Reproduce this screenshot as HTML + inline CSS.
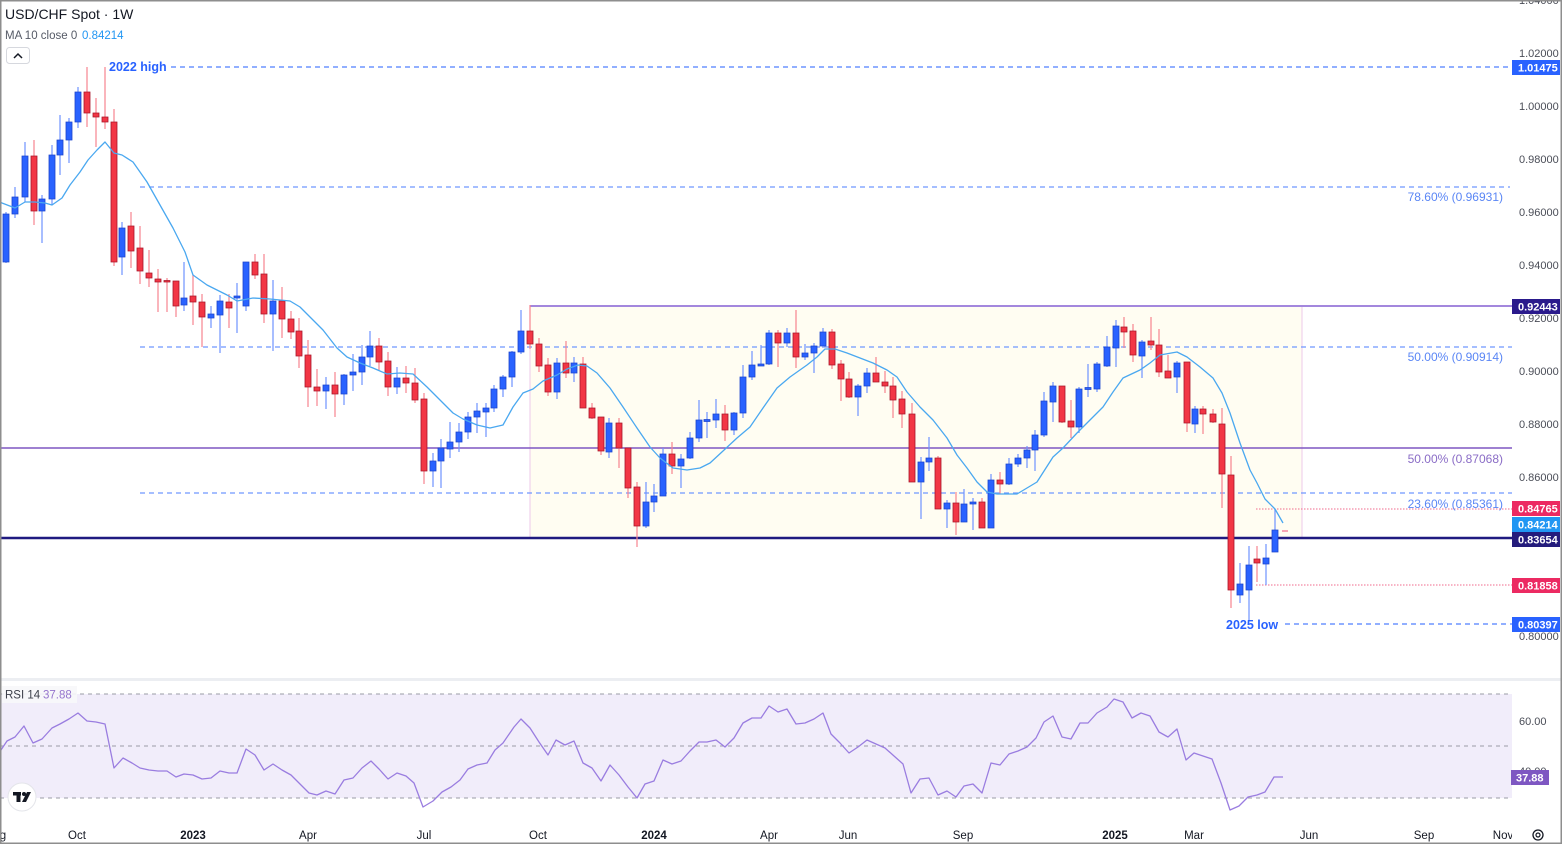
<!DOCTYPE html>
<html><head><meta charset="utf-8"><style>
html,body{margin:0;padding:0;background:#fff;}
svg{display:block;font-family:"Liberation Sans",sans-serif;}
</style></head><body>
<svg width="1564" height="847" viewBox="0 0 1564 847" xmlns="http://www.w3.org/2000/svg">
<rect x="0" y="0" width="1564" height="847" fill="#fff"/>
<defs><clipPath id="plot"><rect x="0" y="0" width="1512" height="678"/></clipPath></defs>

<!-- Range box -->
<rect x="530" y="306" width="772" height="232" fill="#fffdf2" stroke="#ecc9ea" stroke-width="1"/>
<line x1="530" y1="306" x2="1512" y2="306" stroke="#a387dd" stroke-width="2"/>

<!-- horizontal lines -->
<g fill="none" stroke-width="1.2" stroke-dasharray="5,4">
<line x1="171" y1="67" x2="1512" y2="67" stroke="#4f7fff"/>
<line x1="140" y1="187" x2="1510" y2="187" stroke="#6f98ff"/>
<line x1="140" y1="347" x2="1512" y2="347" stroke="#6f98ff"/>
<line x1="140" y1="493" x2="1512" y2="493" stroke="#6f98ff"/>
<line x1="1285" y1="624" x2="1512" y2="624" stroke="#4f7fff"/>
</g>
<line x1="0" y1="448" x2="1512" y2="448" stroke="#7e57c2" stroke-width="1.6"/>
<line x1="0" y1="538" x2="1512" y2="538" stroke="#1f1a80" stroke-width="2.5"/>
<g stroke="#f06a8c" stroke-width="1" stroke-dasharray="1.5,1.5">
<line x1="1256" y1="509" x2="1512" y2="509"/>
<line x1="1256" y1="585" x2="1512" y2="585"/>
</g>

<!-- fib texts -->
<g font-size="12" text-anchor="end">
<text x="1503" y="201" fill="#5a86f5">78.60% (0.96931)</text>
<text x="1503" y="361" fill="#5a86f5">50.00% (0.90914)</text>
<text x="1503" y="463" fill="#8a6cc6">50.00% (0.87068)</text>
<text x="1503" y="508" fill="#5a86f5">23.60% (0.85361)</text>
</g>
<text x="109" y="71" font-size="12.5" font-weight="bold" fill="#2962ff">2022 high</text>
<text x="1226" y="629" font-size="12.5" font-weight="bold" fill="#2962ff">2025 low</text>

<g clip-path="url(#plot)">
<!-- wicks -->
<path fill="none" stroke="#6f93ff" stroke-width="1.2" d="M6 212V263M15 187V218M25 142V202M42 195V243M52 145V205M60 115V175M69 118V163M78 87V128M122 222V275M184 262V311M211 306V328M220 295V353M237 283V333M246 262V311M273 280V351M326 377V409M344 374V405M353 354V391M362 345V385M370 331V366M397 367V394M433 453V487M441 439V488M450 422V458M459 423V452M468 412V439M477 403V433M486 403V437M494 385V412M503 375V397M512 351V387M521 310V354M557 358V399M574 357V382M609 418V458M646 482V528M654 484V512M663 448V496M681 454V488M690 432V459M699 400V442M707 412V438M716 399V428M734 412V435M743 365V418M752 351V380M761 345V365M769 330V365M787 328V347M805 344V360M814 343V373M823 328V348M858 384V416M867 368V393M921 457V519M929 437V471M947 500V528M964 489V522M973 498V530M991 474V528M1009 458V485M1018 454V467M1027 446V468M1035 430V471M1044 392V437M1053 382V422M1079 387V433M1088 364V397M1097 362V392M1107 336V367M1116 320V367M1142 340V378M1177 361V393M1195 406V433M1240 563V603M1249 546V620M1266 544V585M1275 509V552"/>
<path fill="none" stroke="#f7848f" stroke-width="1.2" d="M34 140V225M87 67V127M96 98V147M105 67V129M114 109V266M131 212V268M140 226V284M149 250V287M158 269V312M167 278V312M176 281V317M193 275V325M202 294V347M229 294V328M255 254V279M264 254V323M282 287V338M291 311V339M299 318V368M308 340V407M317 369V406M335 372V417M379 338V370M388 352V396M406 366V393M415 368V403M424 393V484M530 305V349M539 338V372M548 358V396M566 341V378M583 357V408M592 403V419M601 417V455M619 418V468M628 448V498M637 482V547M672 442V474M725 405V441M778 330V367M796 310V368M832 329V369M841 360V401M849 372V398M876 357V382M885 371V393M893 377V418M902 391V428M912 403V482M938 456V509M956 492V535M982 498V528M1000 472V494M1062 386V423M1071 400V438M1124 317V348M1133 324V362M1151 317V350M1159 329V377M1168 355V378M1187 362V432M1203 406V434M1213 409V423M1222 408V508M1231 456V608M1257 546V582"/>
<!-- bodies -->
<path fill="#2962ff" stroke="#1c45cc" stroke-width="0.8" d="M3 214h6V262h-6z M12 197h6V214h-6z M22 156h6V197h-6z M39 199h6V211h-6z M49 155h6V199h-6z M57 140h6V155h-6z M66 122h6V140h-6z M75 92h6V122h-6z M119 228h6V257h-6z M181 298h6V305h-6z M208 314h6V318h-6z M217 301h6V315h-6z M234 296h6V298h-6z M243 262h6V306h-6z M270 301h6V314h-6z M323 385h6V391h-6z M341 375h6V394h-6z M350 372h6V375h-6z M359 357h6V372h-6z M367 346h6V357h-6z M394 378h6V387h-6z M430 461h6V471h-6z M438 448h6V461h-6z M447 442h6V449h-6z M456 432h6V442h-6z M465 417h6V432h-6z M474 411h6V417h-6z M483 408h6V412h-6z M491 389h6V408h-6z M500 377h6V389h-6z M509 352h6V377h-6z M518 331h6V352h-6z M554 363h6V392h-6z M571 363h6V373h-6z M606 423h6V452h-6z M643 502h6V526h-6z M651 496h6V502h-6z M660 454h6V496h-6z M678 459h6V466h-6z M687 438h6V458h-6z M696 420h6V438h-6z M704 419.5h6V421.5h-6z M713 414h6V420h-6z M731 413h6V430h-6z M740 377h6V413h-6z M749 365h6V377h-6z M758 364h6V366h-6z M766 333h6V364h-6z M784 333h6V343h-6z M802 353h6V357h-6z M811 346h6V353h-6z M820 332h6V346h-6z M855 386h6V397h-6z M864 373h6V386h-6z M918 462h6V482h-6z M926 458h6V462h-6z M944 503h6V509h-6z M961 504h6V522h-6z M970 502h6V504h-6z M988 480h6V528h-6z M1006 464h6V484h-6z M1015 458h6V464h-6z M1024 450h6V458h-6z M1032 435h6V450h-6z M1041 401h6V435h-6z M1050 386h6V402h-6z M1076 389h6V427h-6z M1085 387.5h6V389.5h-6z M1094 364h6V389h-6z M1104 347h6V366h-6z M1113 326h6V348h-6z M1139 342h6V356h-6z M1174 363h6V377h-6z M1192 409h6V424h-6z M1237 584h6V595h-6z M1246 565h6V590h-6z M1263 558h6V564h-6z M1272 530h6V552h-6z"/>
<path fill="#f23645" stroke="#a8162a" stroke-width="0.8" d="M31 156h6V211h-6z M84 92h6V113h-6z M93 113h6V117h-6z M102 117h6V122h-6z M111 122h6V262h-6z M128 226h6V251h-6z M137 248h6V271h-6z M146 273h6V278h-6z M155 279h6V282h-6z M164 280.5h6V282h-6z M173 281h6V306h-6z M190 296h6V302h-6z M199 302h6V317h-6z M226 302h6V308h-6z M252 262h6V275h-6z M261 274h6V314h-6z M279 301h6V319h-6z M288 319h6V332h-6z M296 331h6V356h-6z M305 355h6V387h-6z M314 387h6V391h-6z M332 385h6V394h-6z M376 346h6V362h-6z M385 361h6V387h-6z M403 378h6V383h-6z M412 383h6V400h-6z M421 399h6V471h-6z M527 331h6V344h-6z M536 344h6V366h-6z M545 365h6V392h-6z M563 363h6V373h-6z M580 364h6V408h-6z M589 408h6V418h-6z M598 417h6V451h-6z M616 423h6V448h-6z M625 448h6V488h-6z M634 487h6V526h-6z M669 454h6V466h-6z M722 414h6V430h-6z M775 333h6V343h-6z M793 333h6V357h-6z M829 332h6V365h-6z M838 364h6V379h-6z M846 379h6V397h-6z M873 373h6V382h-6z M882 382h6V386h-6z M890 386h6V400h-6z M899 399h6V414h-6z M909 414h6V482h-6z M935 458h6V509h-6z M953 503h6V522h-6z M979 502h6V528h-6z M997 480h6V484h-6z M1059 386h6V422h-6z M1068 421h6V427h-6z M1121 327h6V332h-6z M1130 331h6V355h-6z M1148 341h6V345h-6z M1156 345h6V372h-6z M1165 371h6V378h-6z M1184 362h6V423h-6z M1200 409h6V414h-6z M1210 414h6V422h-6z M1219 424h6V474h-6z M1228 475h6V590h-6z M1254 559h6V563h-6z"/>
<line x1="1282" y1="531" x2="1288" y2="531" stroke="#f06a8c" stroke-width="1.2"/>
<!-- MA -->
<polyline fill="none" stroke="#4aa8f0" stroke-width="1.3" stroke-linejoin="round" points="0,202 2,203 15,208 25,202 35,202 45,203 52,205 62,198 70,185 80,172 88,160 97,150 105,142 114,153 122,155 133,162 147,182 160,205 173,228 185,252 193,275 207,285 227,295 237,301 253,298 270,299 290,301 300,307 310,317 323,330 337,348 347,357 360,363 373,368 387,374 400,373 413,374 427,387 440,400 453,413 463,419 477,425 490,428 503,425 513,407 523,393 533,389 543,381 557,375 567,369 578,365 587,366 597,373 610,388 623,407 637,428 650,447 660,458 673,468 687,470 700,468 710,463 723,451 737,438 750,427 763,408 777,388 790,377 807,365 817,357 825,349 835,349 847,353 860,358 873,363 887,370 897,377 907,392 920,407 933,420 947,438 957,455 967,468 977,482 987,492 997,494 1017,494 1027,488 1037,482 1053,457 1063,448 1077,433 1090,420 1103,407 1113,392 1123,378 1140,370 1150,363 1160,355 1177,352 1187,357 1200,367 1213,378 1222,393 1230,413 1240,443 1250,470 1257,483 1265,499 1275,509 1283,523"/>
</g>

<!-- price axis ticks -->
<g font-size="11" fill="#4a4d57">
<text x="1519" y="4">1.04000</text>
<text x="1519" y="57">1.02000</text>
<text x="1519" y="110">1.00000</text>
<text x="1519" y="163">0.98000</text>
<text x="1519" y="216">0.96000</text>
<text x="1519" y="269">0.94000</text>
<text x="1519" y="322">0.92000</text>
<text x="1519" y="375">0.90000</text>
<text x="1519" y="428">0.88000</text>
<text x="1519" y="481">0.86000</text>
<text x="1519" y="640">0.80000</text>
</g>
<!-- price labels -->
<g font-size="11" font-weight="bold" fill="#fff">
<rect x="1512" y="60" width="48" height="15" fill="#2962ff"/><text x="1518" y="71.5">1.01475</text>
<rect x="1512" y="299" width="48" height="15" fill="#2a1a8c"/><text x="1518" y="310.5">0.92443</text>
<rect x="1512" y="501" width="48" height="15" fill="#ec2a62"/><text x="1518" y="512.5">0.84765</text>
<rect x="1512" y="517" width="48" height="15" fill="#2196f3"/><text x="1518" y="528.5">0.84214</text>
<rect x="1512" y="532" width="48" height="15" fill="#241c7c"/><text x="1518" y="543.5">0.83654</text>
<rect x="1512" y="578" width="48" height="15" fill="#ec2a62"/><text x="1518" y="589.5">0.81858</text>
<rect x="1512" y="617" width="48" height="15" fill="#2962ff"/><text x="1518" y="628.5">0.80397</text>
</g>

<!-- header -->
<rect x="2" y="2" width="150" height="42" fill="#fff" opacity="0.85"/>
<text x="5" y="19" font-size="14" fill="#131722">USD/CHF Spot · 1W</text>
<text x="5" y="39" font-size="11.5" fill="#555a66">MA 10 close 0</text>
<text x="82" y="39" font-size="11.5" fill="#2196f3">0.84214</text>
<rect x="6.5" y="47.5" width="23" height="16" rx="3" fill="#fff" stroke="#d6d8de"/>
<path d="M14 58 L18 54 L22 58" fill="none" stroke="#131722" stroke-width="1.5"/>

<!-- pane separator -->
<rect x="0" y="678" width="1562" height="3" fill="#eceef2"/>

<!-- RSI pane -->
<rect x="0" y="694" width="1512" height="104" fill="#f1edfa"/>
<g stroke="#9a9ca6" stroke-width="1" stroke-dasharray="4,4">
<line x1="0" y1="694" x2="1512" y2="694"/>
<line x1="0" y1="746" x2="1512" y2="746"/>
<line x1="0" y1="798" x2="1512" y2="798"/>
</g>
<polyline fill="none" stroke="#9a7de0" stroke-width="1.3" stroke-linejoin="round" points="1,750 7,741 15,737 24,726 33,743 42,739 52,728 60,724 69,719 78,713 87,721 96,722 105,724 114,768 123,758 132,763 140,768 149,770 158,771 167,771 176,777 184,774 193,775 202,779 211,778 220,771 229,773 237,773 246,749 255,755 264,770 273,764 282,770 291,775 300,784 309,793 317,795 326,791 335,794 344,780 353,778 362,768 371,761 379,769 388,779 397,773 406,776 414,783 423,807 433,801 442,792 451,787 460,780 468,769 477,765 487,763 495,750 503,743 514,727 521,719 530,728 539,742 548,755 556,740 565,745 574,741 583,763 592,768 601,781 610,765 619,775 628,787 637,798 645,784 654,781 663,760 672,764 681,761 690,751 699,742 707,742 716,740 725,747 734,738 743,723 752,718 761,718 769,706 778,712 787,709 796,724 805,723 814,719 823,713 831,734 840,743 849,753 858,747 867,740 876,744 885,748 894,756 903,764 911,793 920,779 929,778 938,795 947,791 956,797 964,786 973,784 982,793 991,763 1000,765 1009,754 1018,751 1027,747 1036,738 1044,722 1053,716 1062,737 1071,739 1080,723 1088,723 1097,713 1107,707 1114,699 1123,702 1132,718 1141,713 1150,716 1159,732 1168,737 1177,729 1186,760 1194,753 1203,756 1212,759 1221,783 1230,810 1239,806 1248,797 1257,795 1265,792 1274,777 1283,777"/>
<rect x="2" y="686" width="75" height="17" fill="#f7f7f9" opacity="0.9"/>
<text x="5" y="698.5" font-size="11.5" fill="#3c3f4a">RSI 14</text>
<text x="43" y="698.5" font-size="11.5" fill="#9575cd">37.88</text>
<text x="1519" y="725" font-size="11" fill="#4a4d57">60.00</text>
<text x="1519" y="775" font-size="11" fill="#4a4d57">40.00</text>
<rect x="1511" y="770" width="38" height="15" fill="#7e57c2"/>
<text x="1516" y="781.5" font-size="11" font-weight="bold" fill="#fff">37.88</text>

<!-- TradingView logo -->
<circle cx="22" cy="797" r="14" fill="#fff" stroke="#e4e5ea" stroke-width="1"/>
<rect x="13" y="792" width="8" height="3.5" fill="#131722"/>
<rect x="16.5" y="792" width="4" height="10" fill="#131722"/>
<circle cx="24" cy="794" r="2" fill="#131722"/>
<polygon points="27,792 31,792 26,802 22,802" fill="#131722"/>

<!-- time axis -->
<g font-size="11.5" fill="#131722" text-anchor="middle">
<text x="3" y="839">g</text>
<text x="77" y="839">Oct</text>
<text x="193" y="839" font-weight="bold">2023</text>
<text x="308" y="839">Apr</text>
<text x="424" y="839">Jul</text>
<text x="538" y="839">Oct</text>
<text x="654" y="839" font-weight="bold">2024</text>
<text x="769" y="839">Apr</text>
<text x="848" y="839">Jun</text>
<text x="963" y="839">Sep</text>
<text x="1115" y="839" font-weight="bold">2025</text>
<text x="1194" y="839">Mar</text>
<text x="1309" y="839">Jun</text>
<text x="1424" y="839">Sep</text>
</g>
<svg x="1490" y="825" width="22" height="18"><text x="13" y="14" font-size="11.5" fill="#131722" text-anchor="middle">Nov</text></svg>
<circle cx="1538" cy="835" r="5" fill="none" stroke="#131722" stroke-width="1.3"/>
<circle cx="1538" cy="835" r="2" fill="none" stroke="#131722" stroke-width="1.2"/>

<!-- frame -->
<rect x="0.75" y="0.75" width="1560.5" height="842.5" fill="none" stroke="#8e8e8e" stroke-width="1.5"/>
</svg>
</body></html>
